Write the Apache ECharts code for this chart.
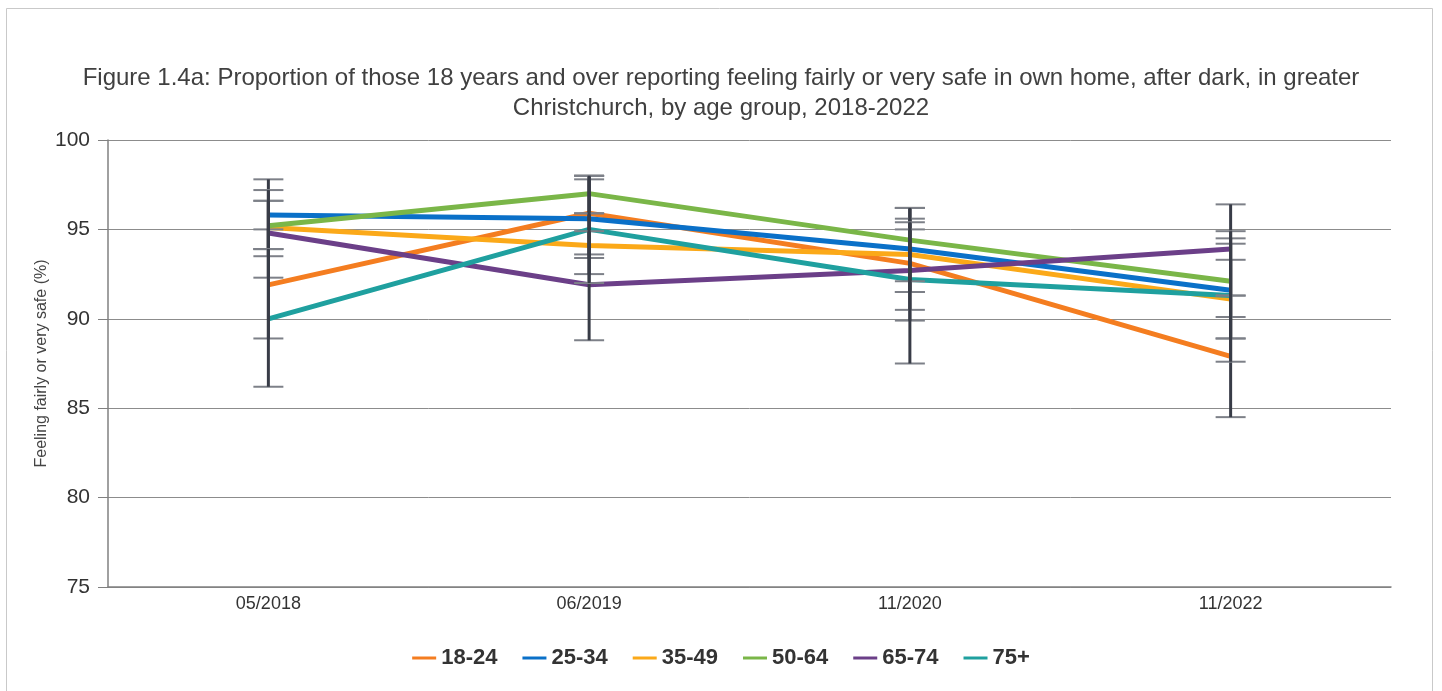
<!DOCTYPE html>
<html>
<head>
<meta charset="utf-8">
<script src="https://cdn.jsdelivr.net/npm/echarts@6/dist/echarts.min.js"></script>
<style>
  html, body { margin: 0; padding: 0; background: #fff; }
  #chart { width: 1442px; height: 691px; }
</style>
</head>
<body>
<div id="chart"></div>
<script>
// survey waves
const categories = ['05/2018', '06/2019', '11/2020', '11/2022'];
const groups = ['18-24', '25-34', '35-49', '50-64', '65-74', '75+'];
const colors = ['#F47D20', '#0A70C8', '#FBA919', '#7AB648', '#6B3F88', '#1FA09F'];

// % feeling fairly or very safe, one array per age group
const v18_24 = [91.9, 95.9, 93.1, 87.9];
const v25_34 = [95.8, 95.6, 93.9, 91.6];
const v35_49 = [95.1, 94.1, 93.6, 91.1];
const v50_64 = [95.2, 97.0, 94.4, 92.1];
const v65_74 = [94.8, 91.9, 92.7, 93.9];
const v75plus = [90.0, 95.0, 92.2, 91.3];

// confidence interval bounds (lower / upper)
const lo18_24 = [88.9, 93.6, 89.9, 84.5];
const hi18_24 = [95.0, 98.0, 96.2, 91.3];
const lo25_34 = [93.9, 93.4, 91.5, 88.9];
const hi25_34 = [97.8, 97.8, 96.2, 94.5];
const lo35_49 = [93.5, 92.5, 91.5, 88.9];
const hi35_49 = [96.6, 95.9, 95.6, 93.3];
const lo50_64 = [93.9, 95.9, 92.1, 90.1];
const hi50_64 = [96.6, 98.0, 96.2, 94.2];
const lo65_74 = [92.3, 88.8, 90.5, 91.3];
const hi65_74 = [97.2, 94.9, 95.0, 96.4];
const lo75plus = [86.2, 92.0, 87.5, 87.6];
const hi75plus = [93.9, 98.0, 95.4, 94.9];

const values = [v18_24, v25_34, v35_49, v50_64, v65_74, v75plus];
const lows = [lo18_24, lo25_34, lo35_49, lo50_64, lo65_74, lo75plus];
const highs = [hi18_24, hi25_34, hi35_49, hi50_64, hi65_74, hi75plus];

const chart = echarts.init(document.getElementById('chart'));

const renderErrorBar = (params, api) => {
    const x = api.value(0);
    const lo = api.coord([x, api.value(1)]);
    const hi = api.coord([x, api.value(2)]);
    const half = 15;
    return {
        type: 'group',
        children: [
            {type: 'line', shape: {x1: lo[0] - half, y1: lo[1], x2: lo[0] + half, y2: lo[1]}, style: {stroke: '#7d8088', lineWidth: 2}},
            {type: 'line', shape: {x1: hi[0] - half, y1: hi[1], x2: hi[0] + half, y2: hi[1]}, style: {stroke: '#7d8088', lineWidth: 2}},
            {type: 'line', shape: {x1: lo[0], y1: lo[1], x2: hi[0], y2: hi[1]}, style: {stroke: '#383c47', lineWidth: 3}}
        ]
    };
};

const lineSeries = groups.map((name, i) => ({
    name: name,
    type: 'line',
    data: values[i],
    showSymbol: false,
    symbol: 'none',
    lineStyle: {color: colors[i], width: 5},
    itemStyle: {color: colors[i]},
    z: 2
}));

const barSeries = groups.map((name, i) => ({
    name: name + ' CI',
    type: 'custom',
    renderItem: renderErrorBar,
    data: categories.map((c, j) => [j, lows[i][j], highs[i][j]]),
    z: 5,
    silent: true
}));

chart.setOption({
    animation: false,
    backgroundColor: '#fff',
    color: colors,
    title: {
        text: 'Figure 1.4a: Proportion of those 18 years and over reporting feeling fairly or very safe in own home, after dark, in greater\nChristchurch, by age group, 2018-2022',
        left: 'center',
        top: 58,
        textStyle: {
            fontFamily: 'Liberation Sans',
            fontSize: 24,
            fontWeight: 'normal',
            color: '#404040',
            lineHeight: 30,
            align: 'center'
        }
    },
    graphic: [{
        type: 'rect',
        shape: {x: 6.5, y: 8.5, width: 1426, height: 700},
        style: {fill: 'none', stroke: '#c9c9c9', lineWidth: 1},
        silent: true,
        z: -1
    }],
    legend: {
        data: groups,
        bottom: 17,
        left: 'center',
        icon: 'rect',
        itemWidth: 24,
        itemHeight: 3,
        itemGap: 25,
        textStyle: {
            fontFamily: 'Liberation Sans',
            fontSize: 22,
            fontWeight: 'bold',
            color: '#333'
        }
    },
    grid: {
        left: 108,
        right: 51,
        top: 140,
        bottom: 104,
        containLabel: false
    },
    xAxis: {
        type: 'category',
        data: categories,
        boundaryGap: true,
        axisLine: {lineStyle: {color: '#808080', width: 1.5}},
        axisTick: {alignWithLabel: true, length: 5, lineStyle: {color: '#808080'}},
        axisLabel: {
            fontFamily: 'Liberation Sans',
            fontSize: 18,
            color: '#333',
            margin: 8
        },
        splitLine: {show: false}
    },
    yAxis: {
        type: 'value',
        min: 75,
        max: 100,
        interval: 5,
        name: 'Feeling fairly or very safe (%)',
        nameLocation: 'middle',
        nameGap: 58,
        nameMoveOverlap: false,
        nameTextStyle: {
            fontFamily: 'Liberation Sans',
            fontSize: 16,
            color: '#444'
        },
        axisLine: {show: true, lineStyle: {color: '#808080', width: 1.5}},
        axisTick: {show: true, length: 10, lineStyle: {color: '#808080'}},
        axisLabel: {
            fontFamily: 'Liberation Sans',
            fontSize: 21,
            color: '#333',
            margin: 18
        },
        splitLine: {lineStyle: {color: '#8c8c8c', width: 1}}
    },
    series: lineSeries.concat(barSeries)
});
</script>
</body>
</html>
